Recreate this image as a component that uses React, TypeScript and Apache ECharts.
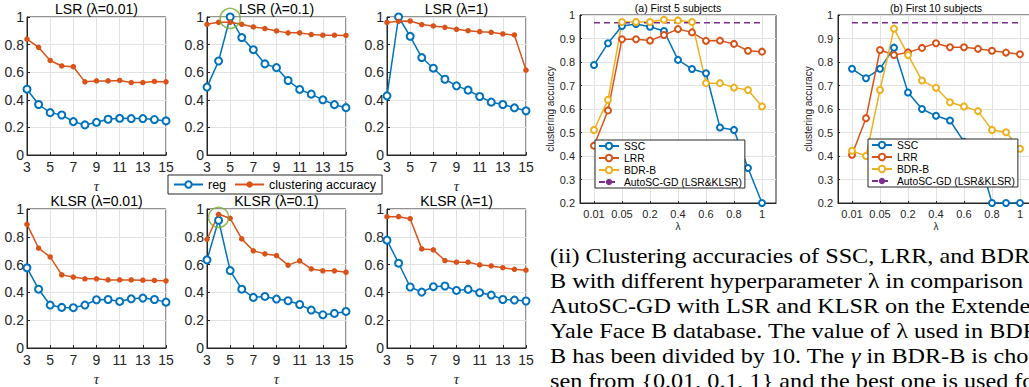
import React, { useEffect, useRef } from "react";
import * as echarts from "echarts";

// ---------- data ----------
const tauLabels = ["3", "4", "5", "6", "7", "8", "9", "10", "11", "12", "13", "14", "15"];

const lsr001Reg = [0.477, 0.366, 0.307, 0.29, 0.242, 0.218, 0.237, 0.259, 0.266, 0.264, 0.264, 0.257, 0.247];
const lsr001Acc = [0.84, 0.78, 0.685, 0.645, 0.64, 0.53, 0.537, 0.537, 0.54, 0.525, 0.525, 0.533, 0.53];
const lsr01Reg = [0.492, 0.681, 1.0, 0.851, 0.763, 0.66, 0.633, 0.54, 0.475, 0.441, 0.4, 0.365, 0.343];
const lsr01Acc = [0.947, 0.962, 0.962, 0.947, 0.928, 0.916, 0.899, 0.885, 0.885, 0.873, 0.868, 0.868, 0.866];
const lsr1Reg = [0.429, 1.0, 0.86, 0.706, 0.629, 0.549, 0.501, 0.47, 0.424, 0.383, 0.366, 0.342, 0.32];
const lsr1Acc = [0.961, 0.969, 0.971, 0.945, 0.935, 0.925, 0.911, 0.901, 0.894, 0.889, 0.877, 0.87, 0.615];
const klsr001Reg = [0.577, 0.423, 0.309, 0.292, 0.29, 0.309, 0.347, 0.349, 0.335, 0.354, 0.359, 0.349, 0.33];
const klsr001Acc = [0.89, 0.718, 0.655, 0.526, 0.51, 0.498, 0.498, 0.49, 0.49, 0.49, 0.488, 0.486, 0.483];
const klsr01Reg = [0.634, 0.919, 0.557, 0.423, 0.364, 0.371, 0.352, 0.34, 0.313, 0.273, 0.239, 0.249, 0.263];
const klsr01Acc = [0.782, 0.962, 0.933, 0.785, 0.699, 0.677, 0.665, 0.596, 0.627, 0.569, 0.555, 0.555, 0.545];
const klsr1Reg = [0.776, 0.61, 0.439, 0.402, 0.441, 0.446, 0.414, 0.422, 0.398, 0.381, 0.349, 0.345, 0.338];
const klsr1Acc = [0.945, 0.945, 0.93, 0.713, 0.706, 0.629, 0.617, 0.617, 0.598, 0.59, 0.578, 0.566, 0.56];

const leftTitles = ["LSR (λ=0.01)", "LSR (λ=0.1)", "LSR (λ=1)", "KLSR (λ=0.01)", "KLSR (λ=0.1)", "KLSR (λ=1)"];
const leftReg = [lsr001Reg, lsr01Reg, lsr1Reg, klsr001Reg, klsr01Reg, klsr1Reg];
const leftAcc = [lsr001Acc, lsr01Acc, lsr1Acc, klsr001Acc, klsr01Acc, klsr1Acc];
// highlighted optimum (green circle): [panel index, tau, value]
const highlights: [number, string, number][] = [
  [1, "5", 0.99],
  [4, "4", 0.94],
];

const lambdaLabels = ["0.01", "0.03", "0.05", "0.1", "0.2", "0.3", "0.4", "0.5", "0.6", "0.7", "0.8", "0.9", "1"];
const first5SSC = [0.787, 0.88, 0.953, 0.962, 0.95, 0.932, 0.809, 0.77, 0.752, 0.521, 0.511, 0.349, 0.2];
const first5LRR = [0.444, 0.594, 0.897, 0.897, 0.891, 0.915, 0.94, 0.926, 0.89, 0.891, 0.877, 0.848, 0.844];
const first5BDR = [0.511, 0.639, 0.97, 0.97, 0.97, 0.98, 0.977, 0.97, 0.71, 0.71, 0.691, 0.681, 0.611];
const first5AutoSC = 0.967;
const first10SSC = [0.771, 0.731, 0.771, 0.861, 0.67, 0.6, 0.571, 0.551, 0.46, 0.41, 0.2, 0.2, 0.2];
const first10LRR = [0.405, 0.561, 0.851, 0.83, 0.841, 0.86, 0.88, 0.863, 0.863, 0.856, 0.848, 0.84, 0.833];
const first10BDR = [0.422, 0.4, 0.681, 0.942, 0.83, 0.721, 0.69, 0.629, 0.611, 0.591, 0.511, 0.501, 0.431];
const first10AutoSC = 0.967;

const rightTitles = ["(a) First 5 subjects", "(b) First 10 subjects"];
const rightNames = ["SSC", "LRR", "BDR-B", "AutoSC-GD (LSR&KLSR)"];

const captionLines = [
  "(ii) Clustering accuracies of SSC, LRR, and BDR-",
  "B with different hyperparameter λ in comparison to",
  "AutoSC-GD with LSR and KLSR on the Extended",
  "Yale Face B database. The value of λ used in BDR-",
  "B has been divided by 10. The {g|γ} in BDR-B is cho-",
  "sen from {0.01, 0.1, 1} and the best one is used for",
];

// ---------- styles ----------
const FONT = '"Liberation Sans", Arial, Helvetica, sans-serif';
const SERIF = '"Liberation Serif", "Times New Roman", serif';
const BLUE = "#0072BD";
const ORANGE = "#D95319";
const YELLOW = "#EDB120";
const PURPLE = "#7E2F8E";
const GREEN = "#77AC30";
const AXIS = "#262626";
const GRIDC = "#e2e2e2";

const leftCols = [27, 207, 387];
const leftRows = [17, 209];
const rightLefts = [580, 838];

function buildOption() {
  const grid: any[] = [];
  const xAxis: any[] = [];
  const yAxis: any[] = [];
  const series: any[] = [];
  const graphic: any[] = [];

  leftTitles.forEach((title, i) => {
    const r = Math.floor(i / 3);
    const c = i % 3;
    const left = leftCols[c];
    const top = leftRows[r];
    const h = r === 0 ? 138 : 139;
    grid.push({
      left,
      top,
      width: 139,
      height: h,
      show: true,
      borderColor: AXIS,
      borderWidth: 1,
      backgroundColor: "#fff",
      containLabel: false,
      outerBoundsMode: "none",
    });
    // the top-middle panel's τ label is hidden behind the shared legend in the original
    const hideName = i === 1;
    xAxis.push({
      type: "category",
      gridIndex: i,
      data: tauLabels,
      boundaryGap: false,
      axisLine: { show: true, lineStyle: { color: AXIS, width: 1 } },
      axisTick: { show: true, inside: true, interval: 1, length: 3, lineStyle: { color: AXIS } },
      axisLabel: { interval: 1, color: AXIS, fontSize: 14, margin: 5, fontFamily: FONT },
      splitLine: { show: true, interval: 1, lineStyle: { color: GRIDC, width: 1 } },
      name: hideName ? "" : "τ",
      nameLocation: "middle",
      nameGap: 23,
      nameTextStyle: { fontStyle: "italic", fontSize: 15, fontFamily: SERIF, color: AXIS },
    });
    yAxis.push({
      type: "value",
      gridIndex: i,
      min: 0,
      max: 1,
      interval: 0.2,
      axisLine: { show: true, lineStyle: { color: AXIS, width: 1 } },
      axisTick: { show: true, inside: true, length: 3, lineStyle: { color: AXIS } },
      axisLabel: { color: AXIS, fontSize: 14, margin: 3, fontFamily: FONT },
      splitLine: { show: true, lineStyle: { color: GRIDC, width: 1 } },
    });
    series.push({
      type: "line",
      name: "reg",
      xAxisIndex: i,
      yAxisIndex: i,
      data: leftReg[i],
      symbol: "emptyCircle",
      symbolSize: 7,
      showAllSymbol: true,
      lineStyle: { color: BLUE, width: 1.5 },
      itemStyle: { color: BLUE, borderColor: BLUE, borderWidth: 1.5 },
    });
    series.push({
      type: "line",
      name: "clustering accuracy",
      xAxisIndex: i,
      yAxisIndex: i,
      data: leftAcc[i],
      symbol: "circle",
      symbolSize: 5.5,
      showAllSymbol: true,
      lineStyle: { color: ORANGE, width: 1.5 },
      itemStyle: { color: ORANGE },
    });
    graphic.push({
      type: "text",
      x: left + 69.5,
      y: r === 0 ? 9 : 201,
      style: { text: title, font: `14px ${FONT}`, fill: "#000", textAlign: "center", textVerticalAlign: "middle" },
    });
  });

  highlights.forEach(([panel, tau, v]) => {
    series.push({
      type: "scatter",
      name: "optimum",
      xAxisIndex: panel,
      yAxisIndex: panel,
      data: [[tau, v]],
      symbol: "circle",
      symbolSize: 20,
      silent: true,
      z: 5,
      itemStyle: { color: "rgba(0,0,0,0)", borderColor: GREEN, borderWidth: 1.6 },
    });
  });

  const rightData = [
    [first5SSC, first5LRR, first5BDR, first5AutoSC],
    [first10SSC, first10LRR, first10BDR, first10AutoSC],
  ];
  const rightColors = [BLUE, ORANGE, YELLOW];
  rightTitles.forEach((title, k) => {
    const gi = 6 + k;
    const left = rightLefts[k];
    grid.push({
      left,
      top: 15,
      width: 196,
      height: 188,
      show: true,
      borderColor: AXIS,
      borderWidth: 1,
      backgroundColor: "#fff",
      containLabel: false,
      outerBoundsMode: "none",
    });
    const cats = ["", ...lambdaLabels, ""];
    const odd = (idx: number) => idx % 2 === 1;
    xAxis.push({
      type: "category",
      gridIndex: gi,
      data: cats,
      boundaryGap: false,
      axisLine: { show: true, lineStyle: { color: AXIS, width: 1 } },
      axisTick: { show: true, inside: true, interval: odd, length: 2, lineStyle: { color: AXIS } },
      axisLabel: { interval: odd, color: AXIS, fontSize: 11, margin: 5, fontFamily: FONT },
      splitLine: { show: true, interval: odd, lineStyle: { color: GRIDC, width: 1 } },
      name: "λ",
      nameLocation: "middle",
      nameGap: 18,
      nameTextStyle: { fontSize: 10, fontFamily: FONT, color: AXIS },
    });
    yAxis.push({
      type: "value",
      gridIndex: gi,
      min: 0.2,
      max: 1,
      interval: 0.1,
      axisLine: { show: true, lineStyle: { color: AXIS, width: 1 } },
      axisTick: { show: true, inside: true, length: 2, lineStyle: { color: AXIS } },
      axisLabel: { color: AXIS, fontSize: 11, margin: 5, fontFamily: FONT },
      splitLine: { show: true, lineStyle: { color: GRIDC, width: 1 } },
      name: "clustering accuracy",
      nameLocation: "middle",
      nameGap: 20,
      nameTextStyle: { fontSize: 10, fontFamily: FONT, color: AXIS },
    });
    const d = rightData[k];
    for (let s = 0; s < 3; s++) {
      const vals = d[s] as number[];
      series.push({
        type: "line",
        name: rightNames[s],
        xAxisIndex: gi,
        yAxisIndex: gi,
        data: vals.map((v, i) => [i + 1, v]),
        symbol: "emptyCircle",
        symbolSize: 6,
        showAllSymbol: true,
        lineStyle: { color: rightColors[s], width: 1.5 },
        itemStyle: { color: rightColors[s], borderColor: rightColors[s], borderWidth: 1.3 },
      });
    }
    const auto = d[3] as number;
    series.push({
      type: "line",
      name: rightNames[3],
      xAxisIndex: gi,
      yAxisIndex: gi,
      data: [
        [1, auto],
        [lambdaLabels.length, auto],
      ],
      symbol: "none",
      lineStyle: { color: PURPLE, width: 1.5, type: [6, 4] },
      itemStyle: { color: PURPLE },
    });
    graphic.push({
      type: "text",
      x: left + 98,
      y: 8,
      style: { text: title, font: `10.5px ${FONT}`, fill: "#000", textAlign: "center", textVerticalAlign: "middle" },
    });
  });

  captionLines.forEach((line, i) => {
    graphic.push({
      type: "text",
      x: 550,
      y: 256 + i * 25,
      scaleX: 1.18,
      style: {
        text: line,
        font: `20.5px ${SERIF}`,
        fill: "#000",
        textAlign: "left",
        textVerticalAlign: "middle",
        rich: { g: { fontStyle: "italic", fontSize: 20.5, fontFamily: SERIF } },
      },
    });
  });

  const legendBase = {
    backgroundColor: "#fff",
    borderColor: AXIS,
    borderWidth: 1,
    borderRadius: 0,
    selectedMode: false,
  };

  return {
    animation: false,
    backgroundColor: "#fff",
    textStyle: { fontFamily: FONT },
    grid,
    xAxis,
    yAxis,
    series,
    graphic,
    legend: [
      {
        ...legendBase,
        data: ["reg", "clustering accuracy"],
        orient: "horizontal",
        left: 168,
        top: 175,
        itemWidth: 29,
        itemHeight: 8,
        itemGap: 8,
        padding: [3, 6, 3, 5],
        textStyle: { fontSize: 12.5, color: "#000", fontFamily: FONT },
      },
      {
        ...legendBase,
        data: rightNames,
        orient: "vertical",
        left: 595,
        top: 140,
        itemWidth: 20,
        itemHeight: 8,
        itemGap: 2,
        padding: [1, 3, 1, 3],
        textStyle: { fontSize: 10.3, color: "#000", fontFamily: FONT },
      },
      {
        ...legendBase,
        data: rightNames,
        orient: "vertical",
        left: 868,
        top: 139,
        itemWidth: 20,
        itemHeight: 8,
        itemGap: 2,
        padding: [1, 3, 1, 3],
        textStyle: { fontSize: 10.3, color: "#000", fontFamily: FONT },
      },
    ],
  };
}

export default function App() {
  const ref = useRef<HTMLDivElement>(null);
  useEffect(() => {
    if (!ref.current) return;
    const chart = echarts.init(ref.current, undefined, { renderer: "svg" });
    chart.setOption(buildOption() as any);
    return () => chart.dispose();
  }, []);
  return (
    <div
      ref={ref}
      style={{ position: "absolute", left: 0, top: 0, width: 1029, height: 387, background: "#fff" }}
    />
  );
}
